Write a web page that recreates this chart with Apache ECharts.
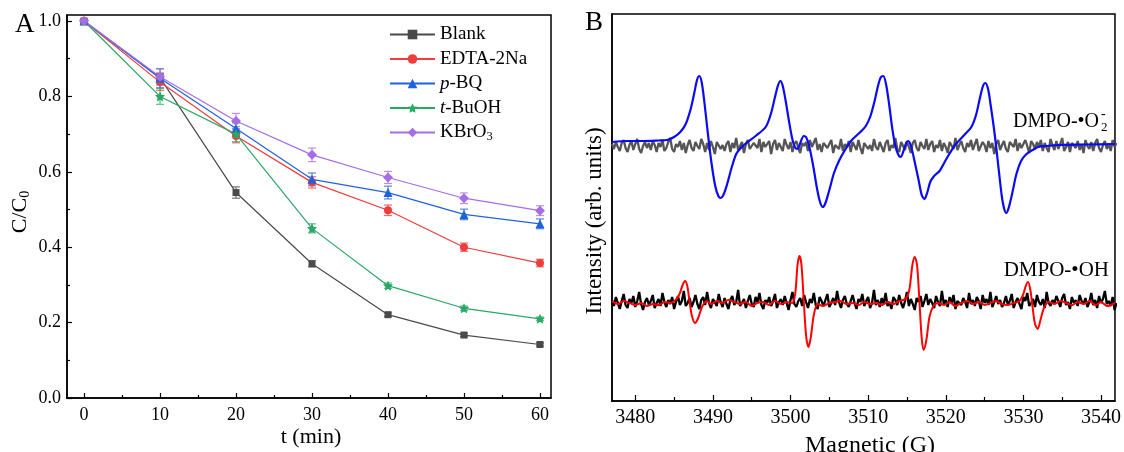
<!DOCTYPE html>
<html>
<head>
<meta charset="utf-8">
<style>
  html, body { margin: 0; padding: 0; background: #fff; }
  #chart { width: 1124px; height: 452px; }
</style>
<script src="https://cdn.jsdelivr.net/npm/echarts@6.0.0/dist/echarts.min.js"></script>
</head>
<body>
<div id="chart"></div>
<script>
// ---- panel A: degradation curves ----
const times = [0, 10, 20, 30, 40, 50, 60];
const blank = [1.0, 0.85, 0.545, 0.356, 0.221, 0.167, 0.142];
const edta = [1.0, 0.838, 0.695, 0.572, 0.498, 0.4, 0.358];
const pbq = [1.0, 0.848, 0.715, 0.58, 0.545, 0.487, 0.462];
const tbuoh = [1.0, 0.8, 0.7, 0.45, 0.298, 0.238, 0.21];
const kbro3 = [1.0, 0.852, 0.735, 0.645, 0.585, 0.53, 0.497];

const blankErr = [0.004, 0.012, 0.015, 0.008, 0.005, 0.005, 0.004];
const edtaErr = [0.004, 0.022, 0.018, 0.015, 0.014, 0.011, 0.01];
const pbqErr = [0.004, 0.025, 0.015, 0.017, 0.017, 0.014, 0.013];
const tbuohErr = [0.004, 0.021, 0.02, 0.012, 0.007, 0.006, 0.005];
const kbro3Err = [0.004, 0.022, 0.02, 0.018, 0.016, 0.014, 0.013];

const timeTicks = [0, 10, 20, 30, 40, 50, 60];
const timeMinor = [5, 15, 25, 35, 45, 55];
const ratioTicks = [0, 0.2, 0.4, 0.6, 0.8, 1.0];
const ratioMinor = [0.1, 0.3, 0.5, 0.7, 0.9];

// ---- panel B: EPR spectra (intensity in arbitrary units) ----
const fieldStart = 3477;
const fieldStep = 0.25;
const fieldTicks = [3480, 3490, 3500, 3510, 3520, 3530, 3540];
const fieldMinor = [3485, 3495, 3505, 3515, 3525, 3535];

// dark control trace, upper group
const grayTrace = [
  256,251,258,253,249,257,260,252,248,255,259,250,256,261,251,247,254,258,252,257,
  250,259,255,248,257,253,260,249,252,258,262,251,248,256,253,259,250,257,247,255,
  260,252,249,258,254,251,261,256,248,257,250,259,253,246,258,260,251,255,249,256,
  259,248,257,252,262,250,254,258,247,256,260,251,249,257,255,252,261,248,258,253,
  251,259,246,256,260,250,257,253,249,261,255,251,258,248,256,259,252,247,257,254,
  258,249,260,253,251,262,250,256,248,257,259,252,250,260,247,255,257,251,261,249,
  256,253,259,248,258,254,250,260,252,246,257,259,251,255,249,261,253,250,258,256,
  248,257,260,249,255,252,262,251,248,258,256,250,259,253,247,257,260,252,249,258,
  254,251,261,250,256,259,248,255,252,260,249,257,253,247,258,256,251,262,250,255,
  259,252,248,257,253,260,250,256,261,249,251,258,255,248,259,252,257,246,256,260,
  250,255,259,251,248,258,256,253,261,249,257,252,250,260,254,247,259,256,251,258,
  253,260,249,257,252,248,261,255,250,259,251,256,262,249,253,258,248,257,255,252,
  259,250,256,247,260,254,251,258,249,257,261,252,248,255,259,251,256,249,260,253,
  257
];

// dark control trace, lower group
const blackTrace = [
  100,94,103,97,91,99,106,95,92,101,97,104,93,99,108,96,90,98,102,95,
  99,105,92,97,101,94,107,98,93,100,96,103,91,98,104,95,99,109,94,97,
  102,93,98,105,96,91,100,103,95,108,97,92,101,99,94,106,98,93,102,96,
  91,100,104,95,98,110,94,97,101,92,99,105,96,93,103,98,107,95,91,100,
  97,103,94,99,106,92,98,101,95,104,97,90,100,108,96,93,99,102,94,105,
  98,92,101,97,107,95,91,103,99,94,100,106,93,97,102,95,109,98,92,100,
  104,96,93,99,105,97,91,101,98,106,94,99,103,92,97,110,95,100,93,102,
  96,107,94,98,91,103,100,95,105,97,92,99,108,94,101,96,90,102,98,104,
  93,99,106,95,101,97,92,104,98,94,109,96,100,93,103,97,105,91,99,101,
  95,102,98,92,107,96,100,94,103,99,91,105,97,101,95,108,93,98,104,96,
  100,93,97,104,95,99,106,92,98,102,96,91,103,99,107,94,97,101,93,105,
  98,95,101,92,108,97,94,100,96,104,99,93,102,106,95,98,91,103,97,100,
  94,105,99,96,102,93,98,107,95,100,92,104,97,101,109,96,99,94,103,90,
  97
];

// DMPO-O2 spectrum, [field, intensity]
const superoxide = [
  [3477.0,258],[3479,259],[3481,259],[3483,259.5],[3484.1,260],[3485,263],[3485.8,268],
  [3486.5,276],[3487.1,290],[3487.6,307],[3487.95,320],[3488.25,324],[3488.55,318],[3488.9,298],
  [3489.3,270],[3489.8,238],[3490.3,214],[3490.7,204],[3491.0,202],[3491.35,205],[3491.8,215],
  [3492.4,232],[3493.0,246],[3493.6,252],[3494.3,257],[3495.5,264],[3496.8,273],[3497.5,287],
  [3498.0,303],[3498.4,315],[3498.7,319],[3499.0,314],[3499.4,298],[3499.8,279],[3500.2,262],
  [3500.55,253],[3500.9,251],[3501.3,258],[3501.7,264],[3502.0,263],[3502.4,254],[3502.9,235],
  [3503.4,212],[3503.8,198],[3504.15,193],[3504.5,197],[3505.0,210],[3505.6,227],[3506.3,240],
  [3507.1,251],[3507.9,260],[3509.0,268],[3509.7,274],[3510.3,284],[3510.8,298],[3511.3,315],
  [3511.65,323],[3511.95,324],[3512.3,316],[3512.7,296],[3513.1,272],[3513.5,254],[3513.9,245],
  [3514.2,243],[3514.55,249],[3514.9,257],[3515.2,259],[3515.55,253],[3516.0,238],[3516.5,220],
  [3516.9,205],[3517.25,201],[3517.6,207],[3518.0,218],[3518.5,224],[3519.2,229],[3520.0,240],
  [3521.2,255],[3522.5,266],[3523.3,273],[3523.9,285],[3524.4,302],[3524.8,314],[3525.1,317],
  [3525.45,311],[3525.8,294],[3526.3,266],[3526.8,232],[3527.2,205],[3527.5,192],[3527.8,187],
  [3528.1,192],[3528.6,208],[3529.1,226],[3529.7,239],[3530.4,246],[3531.2,250],[3531.9,253],
  [3533,254],[3534.4,255],[3538,255.5],[3541.8,256]
];

// DMPO-OH spectrum, [field, intensity]
const hydroxyl = [
  [3477,99],[3477.8,96],[3478.5,99],[3479.3,97],[3480,95],[3480.8,97],[3481.5,94],[3482.3,96],
  [3483,95],[3483.8,98],[3484.5,97],[3485.2,100],[3485.7,106],[3486.1,115],[3486.4,119],
  [3486.7,114],[3487.0,98],[3487.3,84],[3487.7,77],[3488.1,82],[3488.6,93],[3489.2,99],
  [3489.8,96],[3490.5,99],[3491.2,97],[3492,100],[3492.8,98],[3493.5,96],[3494.2,98],[3495,94],
  [3495.7,97],[3496.5,98],[3497.2,95],[3498,99],[3498.8,96],[3499.5,98],[3500.2,97],[3500.6,106],
  [3500.9,135],[3501.15,144],[3501.4,136],[3501.7,100],[3502.0,65],[3502.3,53],[3502.6,62],
  [3503.0,85],[3503.5,96],[3504.2,94],[3505,97],[3505.8,98],[3506.5,99],[3507.2,96],[3508,97],
  [3508.8,95],[3509.5,98],[3510.3,96],[3511,97],[3511.8,95],[3512.5,98],[3513.2,96],[3514,99],
  [3514.8,101],[3515.3,110],[3515.7,135],[3516.0,143],[3516.3,135],[3516.6,100],[3516.9,62],
  [3517.15,50],[3517.5,60],[3517.9,83],[3518.4,94],[3519,97],[3519.8,95],[3520.5,98],[3521.2,94],
  [3522,97],[3522.8,99],[3523.5,96],[3524.3,98],[3525,95],[3525.8,97],[3526.5,99],[3527.2,96],
  [3528,95],[3528.8,97],[3529.5,99],[3530.0,106],[3530.3,114],[3530.6,118],[3530.9,110],
  [3531.2,92],[3531.5,76],[3531.85,71],[3532.2,80],[3532.7,93],[3533.3,98],[3534,96],[3534.8,99],
  [3535.5,97],[3536.3,95],[3537,98],[3537.8,96],[3538.5,99],[3539.3,95],[3540,98],[3540.8,94],
  [3541.8,97]
];

const serif = '"Liberation Serif", "DejaVu Serif", serif';
const starPath = 'path://M0,-10L2.9,-4L9.5,-3.1L4.7,1.5L5.9,8.1L0,5L-5.9,8.1L-4.7,1.5L-9.5,-3.1L-2.9,-4Z';

const chart = echarts.init(document.getElementById('chart'));

const onField = arr => arr.map((v, i) => [fieldStart + i * fieldStep, v]);
const onTime = arr => arr.map((v, i) => [times[i], v]);

function errorBars(name, values, errs, color) {
  return {
    type: 'custom',
    name: name + ' err',
    xAxisIndex: 0,
    yAxisIndex: 0,
    silent: true,
    z: 1,
    encode: { x: 0, y: [1, 2] },
    data: values.map((v, i) => [times[i], v - errs[i], v + errs[i]]),
    renderItem: (params, api) => {
      const lo = api.coord([api.value(0), api.value(1)]);
      const hi = api.coord([api.value(0), api.value(2)]);
      const w = 4;
      const style = { stroke: color, lineWidth: 1.2, opacity: 0.75 };
      return {
        type: 'group',
        children: [
          { type: 'line', shape: { x1: lo[0], y1: lo[1], x2: hi[0], y2: hi[1] }, style },
          { type: 'line', shape: { x1: lo[0] - w, y1: lo[1], x2: lo[0] + w, y2: lo[1] }, style },
          { type: 'line', shape: { x1: hi[0] - w, y1: hi[1], x2: hi[0] + w, y2: hi[1] }, style }
        ]
      };
    }
  };
}

function curve(name, values, color, symbol, size) {
  return {
    type: 'line',
    name,
    xAxisIndex: 0,
    yAxisIndex: 0,
    data: onTime(values),
    symbol,
    symbolSize: size,
    showAllSymbol: true,
    z: 3,
    lineStyle: { color, width: 1.2 },
    itemStyle: { color }
  };
}

const axisLineStyle = { show: true, onZero: false, lineStyle: { color: '#000', width: 1.5 } };
const hiddenLine = { show: false, onZero: false };
const tickLabel = size => ({ color: '#000', fontFamily: serif, fontSize: size });

const colors = {
  blank: '#4a4a4a',
  edta: '#f23b3b',
  pbq: '#1f63dc',
  tbuoh: '#2aa866',
  kbro3: '#a66ee6'
};

chart.setOption({
  animation: false,
  backgroundColor: '#fff',
  grid: [
    { left: 67, top: 15, width: 484, height: 383, show: true, borderColor: '#000', borderWidth: 1.5 },
    { left: 612, top: 14, width: 506, height: 387, show: true, borderColor: '#000', borderWidth: 1.5 }
  ],
  xAxis: [
    {
      type: 'value', gridIndex: 0, min: -2.24, max: 61.45,
      axisLine: axisLineStyle,
      axisTick: { inside: true, length: 5, customValues: timeTicks, lineStyle: { color: '#000', width: 1.2 } },
      axisLabel: { ...tickLabel(18), margin: 8, customValues: timeTicks },
      splitLine: { show: false }
    },
    {
      type: 'value', gridIndex: 0, min: -2.24, max: 61.45, position: 'bottom',
      axisLine: hiddenLine,
      axisTick: { inside: true, length: 3, customValues: timeMinor, lineStyle: { color: '#000', width: 1.2 } },
      axisLabel: { show: false },
      splitLine: { show: false }
    },
    {
      type: 'value', gridIndex: 1, min: 3477, max: 3541.8,
      axisLine: axisLineStyle,
      axisTick: { inside: true, length: 6, customValues: fieldTicks, lineStyle: { color: '#000', width: 1.2 } },
      axisLabel: { ...tickLabel(20), margin: 7, customValues: fieldTicks, formatter: v => String(v) },
      splitLine: { show: false }
    },
    {
      type: 'value', gridIndex: 1, min: 3477, max: 3541.8, position: 'bottom',
      axisLine: hiddenLine,
      axisTick: { inside: true, length: 4, customValues: fieldMinor, lineStyle: { color: '#000', width: 1.2 } },
      axisLabel: { show: false },
      splitLine: { show: false }
    }
  ],
  yAxis: [
    {
      type: 'value', gridIndex: 0, min: 0, max: 1.016,
      axisLine: axisLineStyle,
      axisTick: { inside: true, length: 5, customValues: ratioTicks, lineStyle: { color: '#000', width: 1.2 } },
      axisLabel: { ...tickLabel(18), margin: 6, customValues: ratioTicks, formatter: v => v.toFixed(1) },
      splitLine: { show: false }
    },
    {
      type: 'value', gridIndex: 0, min: 0, max: 1.016, position: 'left',
      axisLine: hiddenLine,
      axisTick: { inside: true, length: 3, customValues: ratioMinor, lineStyle: { color: '#000', width: 1.2 } },
      axisLabel: { show: false },
      splitLine: { show: false }
    },
    {
      type: 'value', gridIndex: 1, min: -1, max: 386,
      axisLine: axisLineStyle,
      axisTick: { show: false },
      axisLabel: { show: false },
      splitLine: { show: false }
    }
  ],
  legend: {
    data: ['Blank', 'EDTA-2Na', 'p-BQ', 't-BuOH', 'KBrO3'],
    orient: 'vertical',
    left: 384,
    top: 20,
    itemWidth: 45,
    itemHeight: 12,
    itemGap: 5.5,
    textStyle: {
      fontFamily: serif, fontSize: 19, color: '#000', lineHeight: 18,
      rich: {
        i: { fontFamily: serif, fontSize: 19, fontStyle: 'italic', color: '#000' },
        s: { fontFamily: serif, fontSize: 12.5, color: '#000', padding: [9, 0, 0, 0] }
      }
    },
    formatter: name => ({ 'p-BQ': '{i|p}-BQ', 't-BuOH': '{i|t}-BuOH', 'KBrO3': 'KBrO{s|3}' }[name] || name)
  },
  graphic: [
    { type: 'text', left: 15, top: 11, style: { text: 'A', font: '27px ' + serif, fill: '#000' } },
    { type: 'text', left: 585, top: 9, style: { text: 'B', font: '27px ' + serif, fill: '#000' } },
    {
      type: 'text', x: 20, y: 212, rotation: Math.PI / 2,
      style: {
        text: '{n|C/C}{s|0}', align: 'center', verticalAlign: 'middle',
        rich: {
          n: { fontFamily: serif, fontSize: 22, fill: '#000' },
          s: { fontFamily: serif, fontSize: 14, fill: '#000', padding: [10, 0, 0, 0] }
        }
      }
    },
    { type: 'text', x: 311, y: 437, style: { text: 't (min)', font: '22px ' + serif, fill: '#000', align: 'center', verticalAlign: 'middle' } },
    { type: 'text', x: 595, y: 221, rotation: Math.PI / 2, style: { text: 'Intensity (arb. units)', font: '23px ' + serif, fill: '#000', align: 'center', verticalAlign: 'middle' } },
    { type: 'text', x: 870, y: 446, style: { text: 'Magnetic (G)', font: '24px ' + serif, fill: '#000', align: 'center', verticalAlign: 'middle' } },
    { type: 'text', x: 1099, y: 122, style: { text: 'DMPO-•O', font: '20px ' + serif, fill: '#000', align: 'right', verticalAlign: 'middle' } },
    { type: 'text', x: 1101, y: 128, style: { text: '2', font: '13px ' + serif, fill: '#000', align: 'left', verticalAlign: 'middle' } },
    { type: 'text', x: 1101, y: 114, style: { text: '-', font: '14px ' + serif, fill: '#000', align: 'left', verticalAlign: 'middle' } },
    { type: 'text', x: 1109, y: 270, style: { text: 'DMPO-•OH', font: '21px ' + serif, fill: '#000', align: 'right', verticalAlign: 'middle' } }
  ],
  series: [
    errorBars('Blank', blank, blankErr, colors.blank),
    errorBars('EDTA-2Na', edta, edtaErr, colors.edta),
    errorBars('p-BQ', pbq, pbqErr, colors.pbq),
    errorBars('t-BuOH', tbuoh, tbuohErr, colors.tbuoh),
    errorBars('KBrO3', kbro3, kbro3Err, colors.kbro3),
    curve('Blank', blank, colors.blank, 'rect', 7),
    curve('EDTA-2Na', edta, colors.edta, 'circle', 8),
    curve('p-BQ', pbq, colors.pbq, 'triangle', 9),
    curve('t-BuOH', tbuoh, colors.tbuoh, starPath, 10),
    curve('KBrO3', kbro3, colors.kbro3, 'diamond', 10),
    {
      type: 'line', name: 'control-upper', xAxisIndex: 2, yAxisIndex: 2,
      data: onField(grayTrace), showSymbol: false, sampling: 'none',
      lineStyle: { color: '#555555', width: 2.3 }
    },
    {
      type: 'line', name: 'DMPO-O2', xAxisIndex: 2, yAxisIndex: 2,
      data: superoxide, showSymbol: false, smooth: 0.3,
      lineStyle: { color: '#0a0af5', width: 2.2 }
    },
    {
      type: 'line', name: 'control-lower', xAxisIndex: 2, yAxisIndex: 2,
      data: onField(blackTrace), showSymbol: false, sampling: 'none',
      lineStyle: { color: '#000000', width: 2.3 }
    },
    {
      type: 'line', name: 'DMPO-OH', xAxisIndex: 2, yAxisIndex: 2,
      data: hydroxyl, showSymbol: false, smooth: 0.3,
      lineStyle: { color: '#ff0000', width: 2 }
    }
  ]
});
</script>
</body>
</html>
